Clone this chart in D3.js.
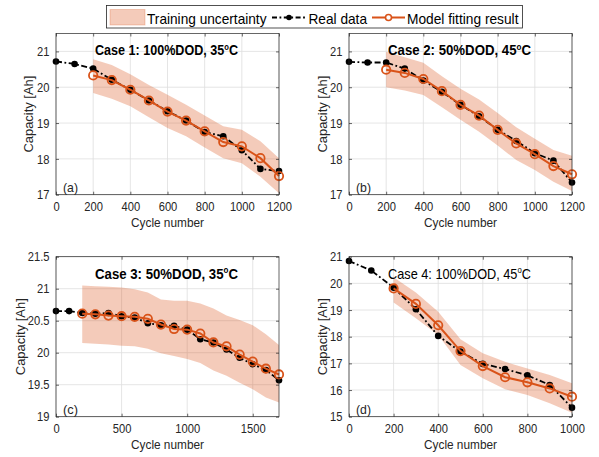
<!DOCTYPE html>
<html>
  <head>
    <meta charset="utf-8">
    <title>Capacity fade</title>
    <script src="https://cdn.jsdelivr.net/npm/d3@7"></script>
    <style>
      body { margin: 0; background: #fff; }
      text { font-family: "Liberation Sans", Arial, Helvetica, sans-serif; }
    </style>
  </head>
  <body>
    <svg width="599" height="457" id="mainsvg"></svg>
    <script>
      // ---- data ----
      const cyclesA = [0, 100, 200, 300, 400, 500, 600, 700, 800, 900, 1000, 1100, 1200];
      const realA = [20.72, 20.65, 20.52, 20.21, 19.93, 19.63, 19.33, 19.07, 18.75, 18.63, 18.24, 17.72, 17.66];
      const fitCyclesA = [200, 300, 400, 500, 600, 700, 800, 900, 1000, 1100, 1200];
      const fitA = [20.33, 20.2, 19.93, 19.63, 19.32, 19.07, 18.77, 18.47, 18.35, 18.02, 17.52];
      const upA = [20.78, 20.62, 20.36, 20.06, 19.79, 19.51, 19.21, 18.91, 18.81, 18.49, 18.02];
      const loA = [19.84, 19.68, 19.47, 19.16, 18.86, 18.63, 18.32, 18.02, 17.88, 17.5, 17.04];

      const cyclesB = [0, 100, 200, 300, 400, 500, 600, 700, 800, 900, 1000, 1100, 1200];
      const realB = [20.71, 20.69, 20.69, 20.52, 20.19, 19.87, 19.51, 19.19, 18.81, 18.5, 18.16, 17.95, 17.34];
      const fitCyclesB = [200, 300, 400, 500, 600, 700, 800, 900, 1000, 1100, 1200];
      const fitB = [20.49, 20.4, 20.23, 19.89, 19.51, 19.21, 18.81, 18.43, 18.13, 17.8, 17.57];
      const upB = [20.99, 20.84, 20.68, 20.31, 19.96, 19.66, 19.28, 18.88, 18.56, 18.25, 18.09];
      const loB = [20.0, 19.91, 19.78, 19.44, 19.09, 18.76, 18.37, 17.97, 17.69, 17.36, 17.1];

      const cyclesC = [0, 100, 200, 300, 400, 500, 600, 700, 800, 900, 1000, 1100, 1200, 1300, 1400, 1500, 1600, 1700];
      const realC = [20.65, 20.65, 20.62, 20.61, 20.62, 20.57, 20.55, 20.46, 20.43, 20.42, 20.36, 20.21, 20.16, 20.05, 19.92, 19.82, 19.73, 19.57];
      const fitCyclesC = [200, 300, 400, 500, 600, 700, 800, 900, 1000, 1100, 1200, 1300, 1400, 1500, 1600, 1700];
      const fitC = [20.61, 20.6, 20.58, 20.57, 20.56, 20.53, 20.44, 20.37, 20.36, 20.3, 20.16, 20.1, 19.97, 19.86, 19.75, 19.66];
      const upC = [21.05, 21.04, 21.03, 21.02, 20.99, 20.94, 20.83, 20.81, 20.81, 20.77, 20.69, 20.58, 20.51, 20.43, 20.29, 20.12];
      const loC = [20.15, 20.14, 20.13, 20.11, 20.1, 20.06, 19.99, 19.95, 19.9, 19.84, 19.72, 19.64, 19.53, 19.43, 19.3, 19.22];

      const cyclesD = [0, 100, 200, 300, 400, 500, 600, 700, 800, 900, 1000];
      const realD = [20.84, 20.48, 19.84, 19.03, 18.03, 17.44, 16.98, 16.79, 16.55, 16.19, 15.34];
      const fitCyclesD = [200, 300, 400, 500, 600, 700, 800, 900, 1000];
      const fitD = [19.81, 19.23, 18.43, 17.46, 16.9, 16.48, 16.29, 16.06, 15.75];
      const upD = [20.23, 19.66, 18.94, 17.9, 17.38, 17.06, 16.81, 16.56, 16.25];
      const loD = [19.28, 18.69, 18.06, 16.94, 16.44, 16.03, 15.81, 15.5, 15.15];

      const xTicksAB = [0, 200, 400, 600, 800, 1000, 1200];
      const xTicksC = [0, 500, 1000, 1500];
      const xTicksD = [0, 200, 400, 600, 800, 1000];
      const yTicksAB = [17, 18, 19, 20, 21];
      const yTicksC = [19, 19.5, 20, 20.5, 21, 21.5];
      const yTicksD = [15, 16, 17, 18, 19, 20, 21];

      const titles = ['Case 1: 100%DOD, 35', 'Case 2: 50%DOD, 45', 'Case 3: 50%DOD, 35', 'Case 4: 100%DOD, 45'];
      const letters = ['(a)', '(b)', '(c)', '(d)'];
      const legendLabels = ['Training uncertainty', 'Real data', 'Model fitting result'];

      const orange = '#D95319';
      const axisColor = '#262626';

      const svg = d3.select('#mainsvg');

      // squeeze text horizontally (figure text is narrower than Liberation Sans)
      const squeeze = (sel, k) => sel.attr('transform', function() {
        const x = +this.getAttribute('x') || 0;
        return `translate(${x},0) scale(${k},1) translate(${-x},0)`;
      });

      const panels = [
        {box: [56, 279, 33.5, 194.7], xDom: [0, 1200], yDom: [17, 21.5], xT: xTicksAB, yT: yTicksAB,
         cyc: cyclesA, real: realA, fc: fitCyclesA, fit: fitA, up: upA, lo: loA, ylx: 28, bold: true},
        {box: [349, 572, 33.5, 194.7], xDom: [0, 1200], yDom: [17, 21.5], xT: xTicksAB, yT: yTicksAB,
         cyc: cyclesB, real: realB, fc: fitCyclesB, fit: fitB, up: upB, lo: loB, ylx: 322, bold: true},
        {box: [56, 279, 256.7, 416.7], xDom: [0, 1700], yDom: [19, 21.5], xT: xTicksC, yT: yTicksC,
         cyc: cyclesC, real: realC, fc: fitCyclesC, fit: fitC, up: upC, lo: loC, ylx: 20.5, bold: true},
        {box: [349, 572, 256.7, 416.7], xDom: [0, 1000], yDom: [15, 21], xT: xTicksD, yT: yTicksD,
         cyc: cyclesD, real: realD, fc: fitCyclesD, fit: fitD, up: upD, lo: loD, ylx: 322, bold: false}
      ];

      panels.forEach((p, i) => {
        const [x0, x1, y0, y1] = p.box;
        const w = x1 - x0, h = y1 - y0;
        const xScale = d3.scaleLinear().domain(p.xDom).range([0, w]);
        const yScale = d3.scaleLinear().domain(p.yDom).range([h, 0]);
        const g = svg.append('g').attr('transform', `translate(${x0},${y0})`);

        // grid
        g.append('g').selectAll('line').data(p.xT).join('line')
          .attr('x1', d => xScale(d)).attr('x2', d => xScale(d))
          .attr('y1', 0).attr('y2', h)
          .attr('stroke', '#dedede').attr('stroke-width', 0.8);
        g.append('g').selectAll('line').data(p.yT).join('line')
          .attr('y1', d => yScale(d)).attr('y2', d => yScale(d))
          .attr('x1', 0).attr('x2', w)
          .attr('stroke', '#dedede').attr('stroke-width', 0.8);

        // uncertainty band
        const bandData = p.fc.map((c, j) => ({c: c, up: p.up[j], lo: p.lo[j]}));
        g.append('path').datum(bandData)
          .attr('d', d3.area().x(d => xScale(d.c)).y0(d => yScale(d.lo)).y1(d => yScale(d.up)))
          .attr('fill', orange).attr('fill-opacity', 0.3);

        // real data
        const realData = p.cyc.map((c, j) => ({c: c, v: p.real[j]}));
        g.append('path').datum(realData)
          .attr('d', d3.line().x(d => xScale(d.c)).y(d => yScale(d.v)))
          .attr('fill', 'none').attr('stroke', '#000').attr('stroke-width', 1.8)
          .attr('stroke-dasharray', '6,2.5,1.8,2.5');
        g.append('g').selectAll('circle').data(realData).join('circle')
          .attr('cx', d => xScale(d.c)).attr('cy', d => yScale(d.v)).attr('r', 3.3)
          .attr('fill', '#000');

        // model fit
        const fitData = p.fc.map((c, j) => ({c: c, v: p.fit[j]}));
        g.append('path').datum(fitData)
          .attr('d', d3.line().x(d => xScale(d.c)).y(d => yScale(d.v)))
          .attr('fill', 'none').attr('stroke', orange).attr('stroke-width', 2);
        g.append('g').selectAll('circle').data(fitData).join('circle')
          .attr('cx', d => xScale(d.c)).attr('cy', d => yScale(d.v)).attr('r', 4.2)
          .attr('fill', 'none').attr('stroke', orange).attr('stroke-width', 1.8);

        // axes, ticks pointing inward
        const xAxis = d3.axisBottom(xScale).tickValues(p.xT).tickFormat(d => d)
          .tickSizeInner(-3).tickSizeOuter(0).tickPadding(7.5);
        const yAxis = d3.axisLeft(yScale).tickValues(p.yT).tickFormat(d => d)
          .tickSizeInner(-3).tickSizeOuter(0).tickPadding(6.5);
        const xg = g.append('g').attr('transform', `translate(0,${h})`).call(xAxis);
        const yg = g.append('g').call(yAxis);
        g.append('g').call(d3.axisTop(xScale).tickValues(p.xT).tickFormat('').tickSizeInner(-3).tickSizeOuter(0));
        g.append('g').attr('transform', `translate(${w},0)`)
          .call(d3.axisRight(yScale).tickValues(p.yT).tickFormat('').tickSizeInner(-3).tickSizeOuter(0));
        g.selectAll('.domain').remove();
        g.selectAll('.tick line').attr('stroke', axisColor).attr('stroke-width', 0.7);
        [xg, yg].forEach(ax => {
          ax.selectAll('text').attr('font-size', 13).attr('fill', axisColor)
            .attr('font-family', '"Liberation Sans", Arial, sans-serif');
          squeeze(ax.selectAll('text'), 0.86);
        });

        g.append('rect').attr('width', w).attr('height', h)
          .attr('fill', 'none').attr('stroke', axisColor).attr('stroke-width', 0.7);

        // axis labels
        svg.append('text').text('Cycle number')
          .attr('x', x0 + w / 2).attr('y', y1 + 32.5)
          .attr('text-anchor', 'middle').attr('font-size', 13).attr('fill', axisColor)
          .attr('textLength', 73).attr('lengthAdjust', 'spacingAndGlyphs');
        svg.append('text').text('Capacity [Ah]')
          .attr('transform', `translate(${p.ylx},${y0 + h / 2}) rotate(-90)`)
          .attr('dy', '0.35em')
          .attr('text-anchor', 'middle').attr('font-size', 13).attr('fill', axisColor)
          .attr('textLength', 77).attr('lengthAdjust', 'spacingAndGlyphs');

        // title with degree superscript, squeezed to the reference width
        const cx = x0 + w / 2 - 1;
        const t = svg.append('text')
          .attr('x', cx).attr('y', y0 + 22)
          .attr('text-anchor', 'middle').attr('font-size', 14)
          .attr('font-weight', p.bold ? 'bold' : 'normal').attr('fill', '#000');
        t.append('tspan').text(titles[i]);
        t.append('tspan').text('o').attr('font-size', 8.5).attr('dy', -5.5);
        t.append('tspan').text('C').attr('dy', 5.5);
        const k = 143 / t.node().getComputedTextLength();
        t.attr('transform', `translate(${cx},0) scale(${k},1) translate(${-cx},0)`);

        svg.append('text').text(letters[i])
          .attr('x', x0 + 7).attr('y', y1 - 3)
          .attr('font-size', 13).attr('fill', axisColor)
          .attr('textLength', 15).attr('lengthAdjust', 'spacingAndGlyphs');
      });

      // ---- legend ----
      const lg = svg.append('g');
      lg.append('rect').attr('x', 106.5).attr('y', 5.5).attr('width', 416).attr('height', 22.5)
        .attr('fill', '#fff').attr('stroke', axisColor).attr('stroke-width', 0.8);
      lg.append('rect').attr('x', 110).attr('y', 9.5).attr('width', 35).attr('height', 15.5)
        .attr('fill', orange).attr('fill-opacity', 0.3)
        .attr('stroke', orange).attr('stroke-opacity', 0.25);
      lg.append('line').attr('x1', 272).attr('x2', 306).attr('y1', 17.5).attr('y2', 17.5)
        .attr('stroke', '#000').attr('stroke-width', 1.8).attr('stroke-dasharray', '5,2.5,1.8,2.5');
      lg.append('circle').attr('cx', 289).attr('cy', 17.5).attr('r', 2.8).attr('fill', '#000');
      lg.append('line').attr('x1', 372).attr('x2', 405).attr('y1', 17.5).attr('y2', 17.5)
        .attr('stroke', orange).attr('stroke-width', 2);
      lg.append('circle').attr('cx', 388.5).attr('cy', 17.5).attr('r', 3)
        .attr('fill', '#fff').attr('stroke', orange).attr('stroke-width', 1.6);
      const legendX = [147, 308.5, 407];
      const legendW = [119.5, 58.5, 111.5];
      legendLabels.forEach((s, j) => {
        lg.append('text').text(s).attr('x', legendX[j]).attr('y', 23.5)
          .attr('font-size', 15).attr('fill', '#000')
          .attr('textLength', legendW[j]).attr('lengthAdjust', 'spacingAndGlyphs');
      });
    </script>
  </body>
</html>
